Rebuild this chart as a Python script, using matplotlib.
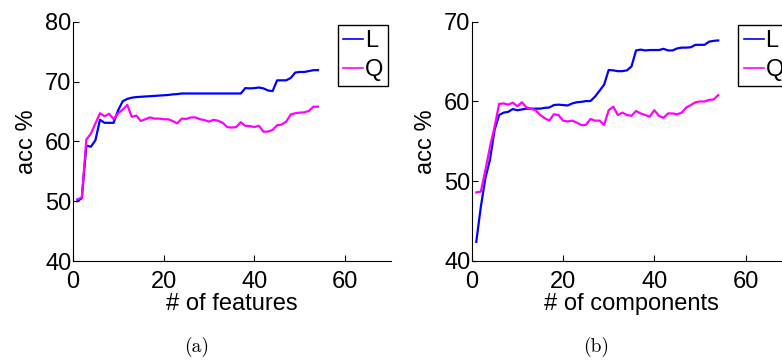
import numpy as np
import matplotlib
matplotlib.use("Agg")
import matplotlib.pyplot as plt

plt.rcParams['font.family'] = ['Liberation Sans', 'DejaVu Sans']

n_feat = np.arange(1, 55)

# accuracy vs number of features
feat_L = [50.0, 50.5, 59.3, 59.1, 60.2, 63.6, 63.1, 63.1, 63.1, 65.2,
          66.7, 67.1, 67.3, 67.4, 67.45, 67.5, 67.55, 67.6, 67.65, 67.7,
          67.75, 67.85, 67.9, 68.0, 68.0, 68.0, 68.0, 68.0, 68.0, 68.0,
          68.0, 68.0, 68.0, 68.0, 68.0, 68.0, 68.0, 68.9, 68.85, 68.9,
          69.0, 68.85, 68.5, 68.4, 70.2, 70.2, 70.2, 70.6, 71.5, 71.6,
          71.6, 71.75, 71.9, 71.9]
feat_Q = [50.3, 50.6, 60.3, 61.3, 63.0, 64.7, 64.2, 64.6, 63.7, 64.7,
          65.3, 66.1, 64.1, 64.3, 63.4, 63.7, 64.0, 63.8, 63.8, 63.7,
          63.7, 63.4, 63.0, 63.8, 63.75, 64.0, 64.0, 63.7, 63.55, 63.3,
          63.6, 63.45, 63.1, 62.4, 62.3, 62.4, 63.2, 62.6, 62.55, 62.4,
          62.6, 61.6, 61.65, 61.9, 62.7, 62.8, 63.3, 64.5, 64.7, 64.8,
          64.85, 65.1, 65.8, 65.8]

n_comp = np.arange(1, 55)

# accuracy vs number of components
comp_L = [42.4, 46.8, 50.4, 52.7, 56.4, 58.3, 58.6, 58.7, 59.05, 58.9,
          59.0, 59.1, 59.1, 59.1, 59.1, 59.2, 59.25, 59.55, 59.6, 59.55,
          59.5, 59.75, 59.9, 59.95, 60.05, 60.05, 60.6, 61.35, 62.1, 63.95,
          63.9, 63.8, 63.8, 63.9, 64.4, 66.4, 66.5, 66.4, 66.45, 66.45,
          66.45, 66.6, 66.4, 66.4, 66.65, 66.75, 66.75, 66.8, 67.1, 67.1,
          67.1, 67.5, 67.6, 67.65]
comp_Q = [48.6, 48.7, 51.4, 54.3, 56.8, 59.7, 59.75, 59.6, 59.85, 59.4,
          59.9, 59.25, 59.1, 58.9, 58.3, 57.9, 57.6, 58.4, 58.3, 57.6,
          57.5, 57.6, 57.35, 57.05, 57.05, 57.8, 57.6, 57.6, 57.05, 58.9,
          59.35, 58.3, 58.6, 58.3, 58.2, 58.8, 58.5, 58.3, 58.1, 58.9,
          58.2, 57.95, 58.5, 58.5, 58.4, 58.6, 59.25, 59.55, 59.9, 60.0,
          60.0, 60.2, 60.25, 60.8]

fig = plt.figure(figsize=(7.82, 3.6), dpi=100)
ax1 = fig.add_axes([0.093, 0.275, 0.4066, 0.6647])
ax2 = fig.add_axes([0.6032, 0.275, 0.4087, 0.6647])


def panel(ax, x, yl, yq, ylim, xlabel, caption):
    ax.plot(x, yl, color='#0000ff', lw=1.6, label='L')
    ax.plot(x, yq, color='#ff00ff', lw=1.6, label='Q')
    ax.set_xlim(0, 70)
    ax.set_ylim(*ylim)
    ax.set_xticks([0, 20, 40, 60])
    ax.set_yticks(np.arange(ylim[0], ylim[1] + 1, 10))
    ax.spines['top'].set_visible(False)
    ax.spines['right'].set_visible(False)
    for s in ('left', 'bottom'):
        ax.spines[s].set_linewidth(0.8)
    ax.tick_params(direction='in', length=4, width=0.8, labelsize=17)
    ax.tick_params(axis='x', pad=7)
    ax.tick_params(axis='y', pad=1)
    ax.set_xlabel(xlabel, fontsize=17, labelpad=0)
    ax.set_ylabel('acc %', fontsize=17, labelpad=5)
    leg = ax.legend(loc='upper right', bbox_to_anchor=(0.993, 0.985),
                    fontsize=17, handlelength=0.85, handletextpad=0.08,
                    labelspacing=0.28, borderpad=0.22, borderaxespad=0,
                    fancybox=False, framealpha=1)
    leg.get_frame().set_edgecolor('black')
    leg.get_frame().set_linewidth(1.0)
    for line in leg.get_lines():
        line.set_linewidth(1.2)
    ax.text(0.39, -0.36, caption, transform=ax.transAxes, ha='center',
            va='center', fontsize=14, family='cmr10')


panel(ax1, n_feat, feat_L, feat_Q, (40, 80), '# of features', '(a)')
panel(ax2, n_comp, comp_L, comp_Q, (40, 70), '# of components', '(b)')

fig.savefig('out.png', dpi=100)
